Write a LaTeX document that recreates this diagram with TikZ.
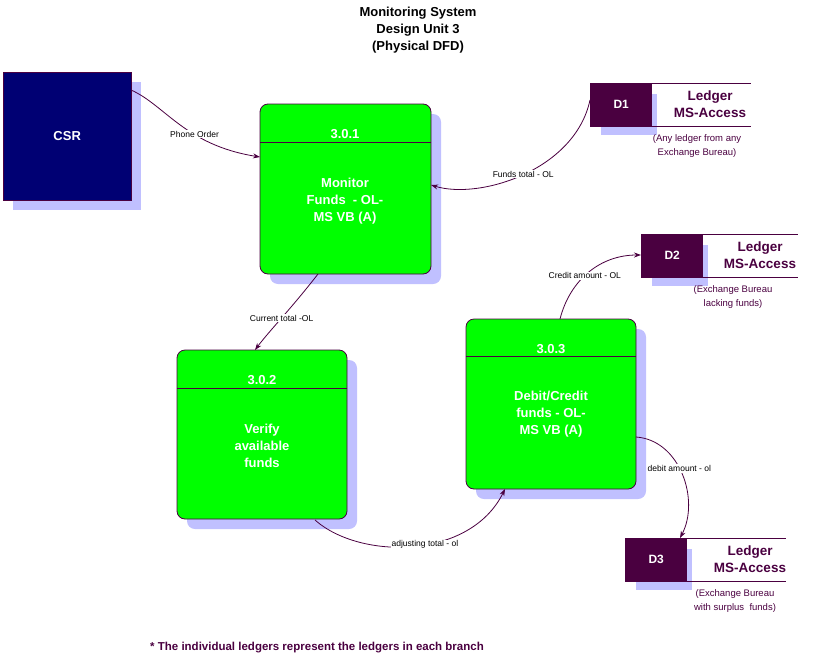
\documentclass[tikz,border=0pt]{standalone}
\usepackage{fontspec}
\setmainfont{Liberation Sans}
\usetikzlibrary{arrows.meta}
\definecolor{dp}{HTML}{4A0040}
\definecolor{sh}{HTML}{C0C0FF}
\definecolor{gr}{HTML}{00FF00}
\definecolor{nv}{HTML}{000073}
\begin{document}
\begin{tikzpicture}[x=1pt,y=-1pt,
 proc/.style={draw=dp,fill=gr,rounded corners=8pt,line width=0.8pt},
 shad/.style={fill=sh,rounded corners=8pt},
 ptxt/.style={font=\bfseries\fontsize{13}{17}\selectfont,text=white,align=center},
 lbl/.style={font=\fontsize{8.5}{9}\selectfont,fill=white,inner sep=1pt},
 flow/.style={draw=dp,line width=0.8pt,-{Stealth[length=7pt,width=5pt]}},
 dtxt/.style={font=\bfseries\fontsize{13.5}{17}\selectfont,text=dp,align=center},
 capt/.style={font=\fontsize{9.5}{14}\selectfont,text=dp,align=center}]
\useasboundingbox (0,0) rectangle (816,664);
\node[font=\bfseries\fontsize{13}{17}\selectfont,align=center] (title) at (418,30) {Monitoring System\\Design Unit 3\\(Physical DFD)};
% CSR
\fill[sh] (13,82) rectangle (141,210);
\node[draw=dp,fill=nv,minimum width=128pt,minimum height=128pt,anchor=north west,inner sep=0,text=white,font=\bfseries\fontsize{13}{15}\selectfont] (csr) at (3,72) {CSR};
% processes
\fill[shad] (270,114) rectangle (441,284);
\draw[proc] (260,104) rectangle (431,274);
\draw[dp,line width=0.8pt] (260,142) -- (431,142);
\node[ptxt] (n1) at (345,134) {3.0.1};
\node[ptxt] (p1) at (345,201) {Monitor\\Funds\ \ - OL-\\MS VB (A)};
\coordinate (p1l) at (260,157); \coordinate (p1r) at (431,185); \coordinate (p1b) at (318,274);
\fill[shad] (187,360) rectangle (357,529);
\draw[proc] (177,350) rectangle (347,519);
\draw[dp,line width=0.8pt] (177,388) -- (347,388);
\node[ptxt] (n2) at (262,380) {3.0.2};
\node[ptxt] (p2) at (262,446) {Verify\\available\\funds};
\coordinate (p2t) at (255,350); \coordinate (p2b) at (315,520);
\fill[shad] (476,329) rectangle (646,499);
\draw[proc] (466,319) rectangle (636,489);
\draw[dp,line width=0.8pt] (466,356) -- (636,356);
\node[ptxt] (n3) at (551,349) {3.0.3};
\node[ptxt] (p3) at (551,414) {Debit/Credit\\funds - OL-\\MS VB (A)};
\coordinate (p3t) at (560,319); \coordinate (p3b) at (505,489); \coordinate (p3r) at (636,437);
% stores
\foreach \nm/\x/\y/\e/\tx/\cx/\cp/\ca in {
 d1/590/83/751/710/697/{(Any ledger from any\\Exchange Bureau)}/D1,
 d2/641/234/798/760/733/{(Exchange Bureau\\lacking funds)}/D2,
 d3/625/538/786/750/735/{(Exchange Bureau\\with surplus\ \ funds)}/D3}{
 \fill[sh] (\x+11,\y+11) rectangle (\x+67,\y+52);
 \node[fill=dp,minimum width=62pt,minimum height=43pt,anchor=north west,inner sep=0,text=white,font=\bfseries\fontsize{12}{14}\selectfont] (\nm) at (\x,\y) {\ca};
 \draw[dp,line width=0.8pt] (\x,\y) -- (\e,\y) (\x,\y+43) -- (\e,\y+43);
 \node[dtxt] (\nm t) at (\tx,\y+21) {Ledger\\MS-Access};
 \node[capt] (\nm c) at (\cx,\y+63) {\cp};
}
\coordinate (d1l) at (590,100); \coordinate (d2l) at (641,255); \coordinate (d3t) at (680,538);
% flows
\draw[flow] (131,90) .. controls (165,105) and (185,145) .. (p1l) node[lbl,pos=0.62] {Phone Order};
\draw[flow] (d1l) .. controls (575,170) and (480,200) .. (p1r) node[lbl,pos=0.5] {Funds total - OL};
\draw[flow] (p1b) .. controls (290,310) and (270,330) .. (p2t) node[lbl,pos=0.5] {Current total -OL};
\draw[flow] (p2b) .. controls (360,560) and (470,560) .. (p3b) node[lbl,pos=0.55] {adjusting total - ol};
\draw[flow] (p3t) .. controls (570,280) and (600,255) .. (d2l) node[lbl,pos=0.45] {Credit amount - OL};
\draw[flow] (p3r) .. controls (680,440) and (700,500) .. (d3t) node[lbl,pos=0.45] {debit amount - ol};
\node[font=\bfseries\fontsize{11.5}{13}\selectfont,text=dp] (foot) at (317,648) {* The individual ledgers represent the ledgers in each branch};
\end{tikzpicture}
\end{document}
